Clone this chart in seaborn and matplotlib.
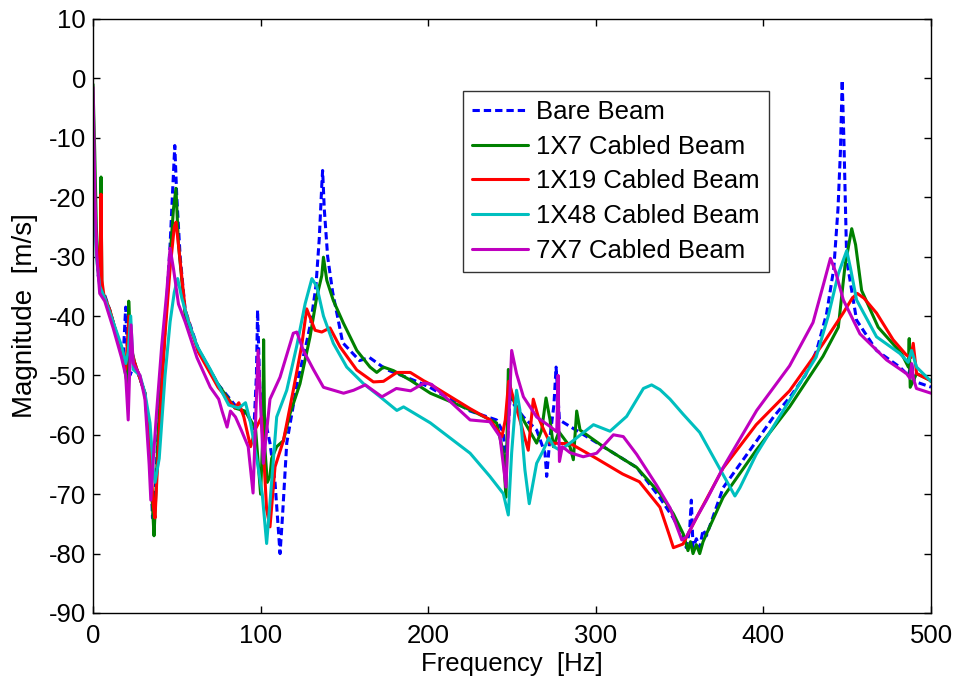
import numpy as np
import pandas as pd
import matplotlib
matplotlib.use("Agg")
import matplotlib.pyplot as plt
import seaborn as sns

# ---------------- data ----------------
series_names = ["Bare Beam", "1X7 Cabled Beam", "1X19 Cabled Beam",
                "1X48 Cabled Beam", "7X7 Cabled Beam"]

bare_f = [0, 1.5, 3, 5, 7, 10, 15, 18, 19.5, 20.5, 22, 25, 31, 34, 35.5, 37, 39, 43, 46, 48, 48.8,
          50, 52, 55, 62.7, 74.6, 84.7, 93, 96, 97.5, 98.2, 99.5, 101.6, 105.6, 108.6, 111.6, 113,
          115.6, 122, 127, 130, 133, 135, 136.5, 137, 138, 140, 143, 149, 159, 165, 175, 193, 201,
          225, 240.8, 244.8, 246.5, 248.8, 256.8, 264.7, 269.7, 270.7, 272.7, 275, 276.3, 278.3,
          284.6, 304.5, 324.4, 338, 346, 352, 354, 356, 357, 358, 360, 362, 364, 366, 376, 396,
          406, 416, 425, 431.8, 437.7, 442, 444.5, 446, 447, 448, 449.7, 455.6, 467.5, 481.4,
          486.4, 488.5, 490, 499.3, 500]
bare_m = [-14, -25, -33, -36, -36.5, -39, -44, -47, -38.5, -46, -50, -48, -53, -63, -74, -70, -58.7,
          -42, -28, -16, -11.3, -20, -30, -39, -45.5, -51.5, -55, -57, -59, -50, -39, -52, -56,
          -61.4, -68, -80, -74, -61.4, -51, -45, -41, -35, -27, -18, -15.5, -22, -30, -36, -44.5,
          -47.5, -47, -49, -51, -52, -56, -57.5, -59.6, -65, -54, -57, -59.2, -63.1, -67, -60.3,
          -55, -48.6, -57.5, -58.6, -62, -65.5, -70.5, -73.9, -77, -79, -76, -71, -79, -77.5,
          -79, -76, -77, -68.9, -61, -57, -53.6, -50, -45.8, -39.6, -32, -22, -12, -0.3, -10,
          -30.6, -40.7, -45.8, -48.6, -50, -48, -51, -51.9, -52]

c1x7_f = [0, 1, 2, 3, 4.2, 4.8, 5.3, 6.5, 10, 15, 18, 19.5, 20.6, 21.3, 22.5, 25, 31, 34, 35.5,
          36.4, 37.5, 39, 43, 46, 48, 49.5, 51, 55, 62.7, 74.6, 84.7, 90.7, 95, 97, 100, 101.3,
          101.8, 102.5, 104, 105.6, 106.6, 109.6, 113.6, 117.6, 123.5, 129.5, 133.5, 136.5,
          137.5, 139.5, 143.4, 149.4, 157.4, 165.3, 169.3, 173.3, 179.3, 189.3, 201.3, 225,
          240.8, 244.8, 246.4, 247.8, 249.8, 256.8, 264.7, 267.7, 270.3, 272.7, 274.7, 278,
          284.6, 286.6, 288.6, 290.6, 304.5, 324.4, 338.3, 346.3, 352.2, 355, 356.5, 358, 360,
          362, 364, 366, 376, 395.7, 415.6, 435.5, 444.7, 448.7, 452.7, 455, 458.6, 468.5,
          482.4, 486.5, 487, 487.6, 491.4, 499.3, 500]
c1x7_m = [-1, -12, -25, -32, -35, -16.6, -36, -36.5, -39, -44, -47, -50, -51.7, -37.5, -45, -48,
          -53, -64, -72, -77, -70, -58.7, -42, -30, -22, -18.5, -28, -40, -45.5, -51.5, -55.5,
          -56, -58, -59, -70, -60, -44, -62, -68, -67, -64, -62, -61, -56.4, -51.4, -43.5,
          -36.8, -33.2, -30.1, -34, -37.4, -41.2, -45.8, -48.6, -49.5, -48.6, -49.2, -50.8,
          -53, -55.8, -58, -63, -70.5, -49, -53.6, -57.5, -61.4, -59.2, -53.8, -57.5, -62,
          -59.5, -62, -64.2, -56, -59.2, -62, -65.5, -69.9, -73.3, -76.7, -79.5, -78, -80,
          -78.5, -80, -78, -76.7, -70.5, -62.6, -55.3, -46.8, -41.9, -31.5, -25.3, -28, -35.7,
          -41.9, -46.3, -48.6, -43.8, -52, -49.7, -50.8, -51]

c1x19_f = [0, 1.5, 3, 4.3, 4.8, 5.3, 6.5, 10, 15, 18, 19.5, 21.5, 23, 25, 31, 34, 36, 37, 38, 40,
           43, 46, 48.5, 49.5, 51, 55, 62.7, 74.6, 84.7, 87, 90, 94, 97, 100.6, 103.6, 105.6,
           108.6, 113.6, 119.5, 124.5, 127.5, 132.5, 136.5, 141.4, 147.4, 157.4, 167.3, 173.3,
           181.3, 189.3, 197.3, 201.3, 225, 237, 244, 246, 248, 250, 254.7, 259.7, 262.7, 265.7,
           268.7, 272.7, 285, 300.5, 316, 326, 332, 338.3, 344, 346.3, 352, 360, 376, 395.7,
           415.6, 435.5, 447.6, 453, 456, 460, 467.5, 477.4, 485.4, 488, 489.4, 491.4, 499.3, 500]
c1x19_m = [-18, -25, -31, -34, -19.5, -34, -36.5, -39, -44, -47, -49, -40, -46, -48, -53, -63, -72,
           -74, -68, -57, -43, -32, -25, -24.2, -28, -39, -46, -52, -55.5, -54.6, -57, -62, -59,
           -57, -72.6, -75.5, -65.4, -61, -52.5, -45, -38.8, -42.4, -42.7, -42, -45.2, -49.1,
           -51.1, -51, -49.5, -49.5, -50.9, -51.5, -55.6, -57.5, -60.3, -57.5, -51, -53, -57.5,
           -62.6, -54, -57, -59, -61.4, -61.5, -64, -66.6, -67.9, -70, -72.2, -77, -79, -78.4,
           -74, -65.6, -58.3, -52.6, -44.7, -39.5, -37, -36.2, -37, -39.5, -44, -46.6, -47,
           -44.6, -49.7, -50.8, -51]

c1x48_f = [0, 1, 2, 4, 7, 12, 17, 19.5, 21, 22.5, 24, 28, 31, 34, 36, 37, 39.5, 43, 46, 48.5, 50.5,
           53, 57, 62, 70, 81, 87, 91, 94, 98, 101, 103.6, 106, 109.6, 115.6, 121.6, 126.6, 130.6,
           133.5, 137.5, 143.4, 151.4, 161.4, 171.3, 181.3, 185.3, 201.3, 225, 236.8, 244.8,
           247.8, 249.8, 252.7, 254.7, 257.7, 260.3, 264.7, 268.7, 272, 275, 278.6, 284.6, 298.6,
           308.5, 318.4, 328.4, 333.3, 338.3, 344.3, 352, 362, 372, 383, 386, 395.7, 415.6,
           431.5, 438.7, 444.7, 449.7, 452, 455.6, 467.5, 481.4, 486.4, 488.4, 491.4, 499.3, 500]
c1x48_m = [-8, -22, -30, -35, -37, -41, -45, -48, -46, -40, -49, -50, -53, -58, -66, -68, -64, -50,
           -41, -36, -33.7, -37, -41, -45, -49, -55, -55.5, -54.6, -58, -64.5, -70, -78.3, -70,
           -57, -52.5, -45, -37.9, -33.7, -35, -40, -44.6, -48.6, -51.4, -53.6, -55.9, -55.3, -58,
           -63.1, -67, -69.9, -73.5, -63, -52.5, -55.8, -65.9, -71.6, -64.8, -62.6, -60.5, -62,
           -62.6, -61.4, -58.3, -59.4, -56.9, -52.2, -51.6, -52.4, -54, -56.5, -59.6, -64.7,
           -70.3, -68.9, -63.3, -54.2, -46.9, -40, -32.9, -29, -32, -37.3, -43.5, -46.3, -47.8,
           -45.8, -48.6, -50.8, -51]

c7x7_f = [0, 1.2, 2.2, 3.1, 4, 7, 12, 17, 19.5, 21, 22.7, 24, 28, 31, 33.5, 34.5, 35.5, 38, 41, 44,
          46, 48, 51, 55, 62, 70, 75, 77, 80, 82, 85, 88.6, 92.6, 95.5, 98.5, 101.6, 105.6, 111.6,
          119.5, 121.6, 125.5, 131.5, 137.5, 149.5, 155.5, 162.5, 172.4, 181, 189.5, 197.5, 202,
          225, 236.8, 242.8, 246.4, 249.8, 252.7, 256.8, 264.7, 272.7, 276.7, 277.5, 278.3, 280,
          284.6, 292.5, 300.5, 310.5, 316.4, 324.4, 336.3, 344.3, 346.3, 351.3, 354, 360, 366,
          376, 396, 415.6, 429.6, 436, 440, 443, 447.7, 457.6, 473.5, 485.4, 487.5, 488.4, 489.5,
          491.3, 500]
c7x7_m = [-1.5, -20.5, -29.5, -33, -36.2, -37.5, -42, -47, -50, -57.5, -41.5, -48, -50, -54, -65,
          -71, -66, -56, -45, -36, -28.6, -32, -38, -41, -47, -52, -54, -56, -58.7, -56, -57,
          -59.3, -62, -69.8, -45.8, -64.8, -54, -50.3, -42.9, -42.7, -45.8, -49, -52, -53, -52.5,
          -51.6, -53.6, -52.2, -52.6, -51.3, -51.5, -57.5, -57.8, -60.3, -68.8, -45.8, -49.7,
          -53.6, -57, -58.6, -59.5, -50, -64.5, -62, -63, -63.7, -63.1, -60, -60.3, -63.3, -68.5,
          -72.3, -73.9, -77.7, -77.2, -74, -71, -65.5, -55.9, -48.4, -41.1, -34.5, -30.3, -32.5,
          -37.3, -43, -47.4, -49.7, -50.5, -48, -50.5, -52.2, -53]

colors = ["#0000FF", "#008000", "#FF0000", "#00BFBF", "#BF00BF"]

freqs = [bare_f, c1x7_f, c1x19_f, c1x48_f, c7x7_f]
mags = [bare_m, c1x7_m, c1x19_m, c1x48_m, c7x7_m]

frames = []
for name, f, m in zip(series_names, freqs, mags):
    frames.append(pd.DataFrame({"Frequency": f, "Magnitude": m, "Series": name}))
df = pd.concat(frames, ignore_index=True)

# ---------------- plot ----------------
sns.set_style("ticks")
plt.rcParams["font.family"] = ["Liberation Sans", "DejaVu Sans"]
plt.rcParams["axes.unicode_minus"] = False
plt.rcParams["text.color"] = "black"
plt.rcParams["axes.labelcolor"] = "black"

fig = plt.figure(figsize=(9.54, 6.79), dpi=100)
ax = fig.add_axes([93 / 954, 1 - 613 / 679, (931 - 93) / 954, (613 - 19) / 679])

palette = dict(zip(series_names, colors))
dashes = {n: "" for n in series_names}
dashes["Bare Beam"] = (2.4, 1.3)

sns.lineplot(data=df, x="Frequency", y="Magnitude", hue="Series", style="Series",
             hue_order=series_names, style_order=series_names, palette=palette,
             dashes=dashes, sort=False, estimator=None, linewidth=2.2, ax=ax)

ax.set_xlim(0, 500)
ax.set_ylim(-90, 10)
ax.set_xticks([0, 100, 200, 300, 400, 500])
ax.set_yticks(np.arange(-90, 11, 10))
ax.tick_params(direction="in", length=5, width=1, top=True, right=True,
               colors="black", labelsize=18.5)
ax.tick_params(axis="x", pad=8)
ax.tick_params(axis="y", pad=5)
for sp in ax.spines.values():
    sp.set_visible(True)
    sp.set_linewidth(1.0)
    sp.set_color("black")

ax.set_xlabel("Frequency  [Hz]", fontsize=18.5, labelpad=3, color="black")
ax.set_ylabel("Magnitude  [m/s]", fontsize=20, labelpad=8, color="black")

handles, labels = ax.get_legend_handles_labels()
leg = ax.legend(handles, labels, loc="upper left", bbox_to_anchor=(0.4415, 0.879),
                fontsize=18.5, frameon=True, fancybox=False, borderpad=0.35,
                labelspacing=0.42, handlelength=2.2, handletextpad=0.3, borderaxespad=0)
leg.get_frame().set_edgecolor("black")
leg.get_frame().set_linewidth(1.0)
for h in leg.get_lines():
    h.set_linewidth(2.2)

fig.savefig("out.png", dpi=100)
